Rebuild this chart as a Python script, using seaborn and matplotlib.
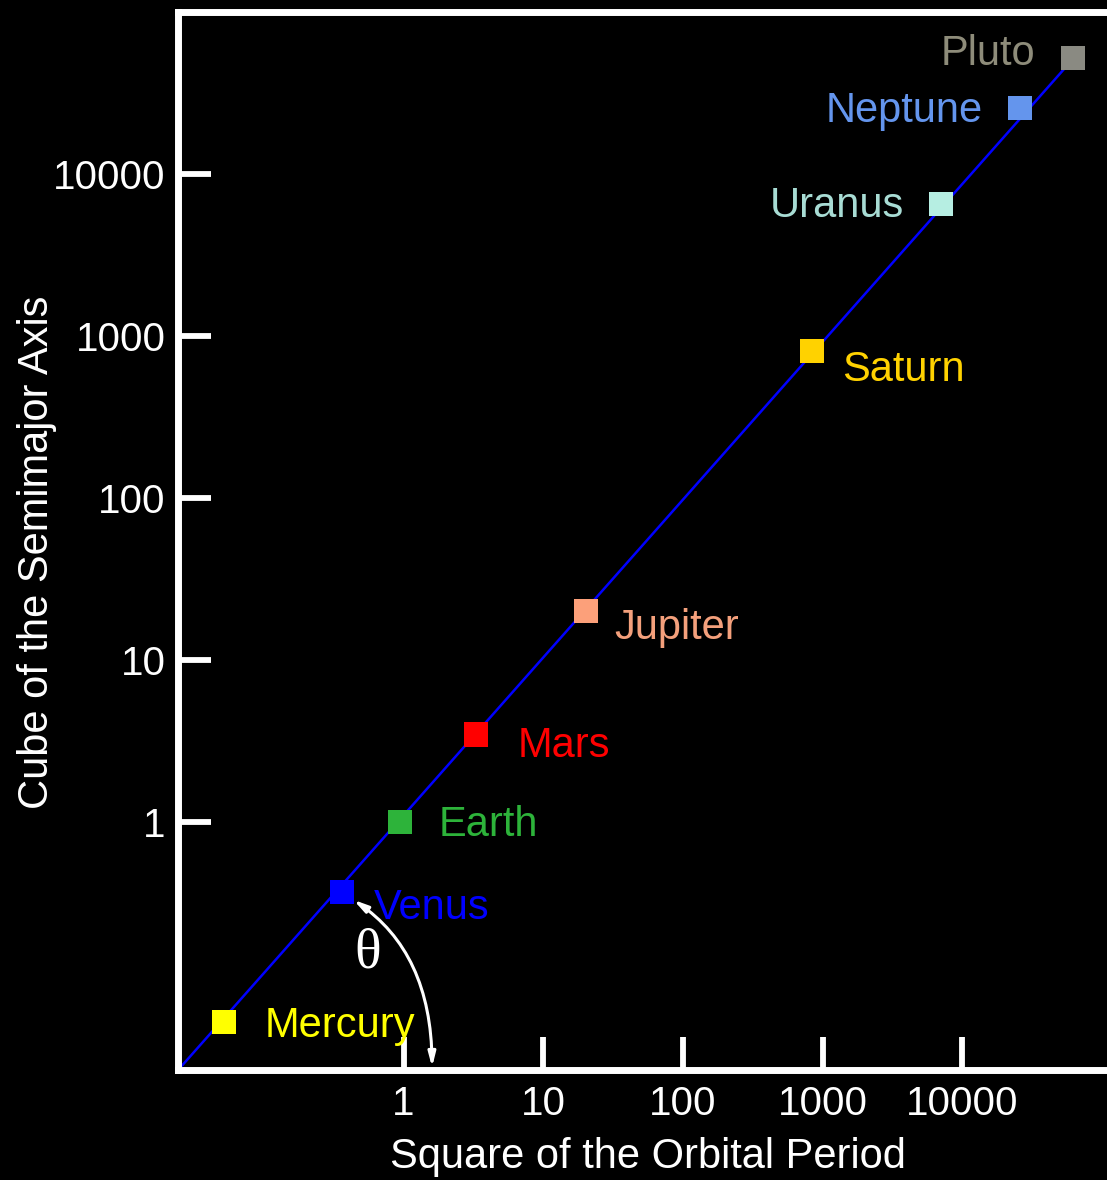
import matplotlib
matplotlib.use("Agg")
import matplotlib.pyplot as plt
import seaborn as sns
import pandas as pd

# ── Data ────────────────────────────────────────────────────────────────────
PLANETS = ["Mercury", "Venus", "Earth", "Mars", "Jupiter",
           "Saturn", "Uranus", "Neptune", "Pluto"]
PERIOD_SQ = [0.052, 0.36, 0.94, 3.3, 20.3, 835, 7080, 25900, 62000]
AXIS_CUBE = [0.058, 0.367, 1.0, 3.47, 20.1, 816, 6600, 25700, 52000]
MARKER_COLORS = ["#FFFF00", "#0000FF", "#2DB33A", "#FF0000", "#FCA07A",
                 "#FFD200", "#B6EEE2", "#6495ED", "#8A8A82"]
TEXT_COLORS = ["#FFFF00", "#0000FF", "#2DB33A", "#FF0000", "#F4A07C",
               "#FFD200", "#A8DCD4", "#6495ED", "#8E8C7A"]
LINE_X = [0.024, 60000]
LINE_Y = [0.029, 50000]
TICKS = [1, 10, 100, 1000, 10000]
TICK_LABELS = ["1", "10", "100", "1000", "10000"]
THETA_END_X = 1.6

df = pd.DataFrame({"planet": PLANETS, "x": PERIOD_SQ, "y": AXIS_CUBE})
line_df = pd.DataFrame({"x": LINE_X, "y": LINE_Y})

sns.set_theme(style="dark")
plt.rcParams["font.family"] = ["Liberation Sans", "DejaVu Sans"]

fig = plt.figure(figsize=(11.07, 11.80), dpi=100, facecolor="black")
ax = fig.add_axes([178 / 1107, 1 - 1070 / 1180, 1 - 178 / 1107, (1070 - 12) / 1180])
ax.set_facecolor("black")

sns.lineplot(data=line_df, x="x", y="y", color="#0000FF", linewidth=1.8, ax=ax)
sns.scatterplot(data=df, x="x", y="y", hue="planet",
                palette=dict(zip(PLANETS, MARKER_COLORS)),
                marker="s", s=300, linewidth=0, legend=False, zorder=3, ax=ax)

ax.set_xscale("log")
ax.set_yscale("log")
ax.set_xlim(10 ** -1.615, 10 ** 5.036)
ax.set_ylim(10 ** -1.532, 10 ** 5.003)

ax.set_xticks(TICKS)
ax.set_xticklabels(TICK_LABELS)
ax.set_yticks(TICKS)
ax.set_yticklabels(TICK_LABELS)
ax.minorticks_off()
ax.tick_params(axis="both", which="major", direction="in", length=24, width=4.2,
               color="white", labelcolor="white", labelsize=29,
               bottom=True, left=True, top=False, right=False)
ax.tick_params(axis="y", pad=9)
ax.tick_params(axis="x", pad=11)
ax.grid(False)

for side in ["left", "top", "bottom"]:
    ax.spines[side].set_visible(True)
    ax.spines[side].set_color("white")
    ax.spines[side].set_linewidth(5)
ax.spines["right"].set_visible(False)

ax.set_xlabel("Square of the Orbital Period", color="white", fontsize=30)
ax.set_ylabel("Cube of the Semimajor Axis", color="white", fontsize=30)
ax.xaxis.set_label_coords((648 - 178) / 929, -(1157 - 1070) / 1058)
ax.xaxis.label.set_va("center")
ax.yaxis.set_label_coords(-(178 - 37) / 929, (1070 - 552) / 1058)
ax.yaxis.label.set_va("center")

# label offsets in points (x, y), alignment
LABEL_OFFSETS = {
    "Mercury": ((29, -3), "left"),
    "Venus": ((23, -11), "left"),
    "Earth": ((28, -2), "left"),
    "Mars": ((30, -8), "left"),
    "Jupiter": ((20, -12), "left"),
    "Saturn": ((22, -14), "left"),
    "Uranus": ((-27, -2), "right"),
    "Neptune": ((-27, -2), "right"),
    "Pluto": ((-27, 3), "right"),
}
for name, x, y, c in zip(PLANETS, PERIOD_SQ, AXIS_CUBE, TEXT_COLORS):
    off, ha = LABEL_OFFSETS[name]
    ax.annotate(name, (x, y), xytext=off, textcoords="offset points",
                ha=ha, va="center", color=c, fontsize=30, zorder=2)

# theta arrow from Venus down to the x axis
venus = (PERIOD_SQ[1], AXIS_CUBE[1])
ax.annotate("", xy=(THETA_END_X, 0), xycoords=("data", "axes fraction"),
            xytext=venus, textcoords="data",
            arrowprops=dict(arrowstyle="<|-|>,head_length=0.7,head_width=0.18",
                            connectionstyle="angle3,angleA=-30,angleB=90",
                            color="white", lw=2.2, shrinkA=10, shrinkB=2),
            zorder=4)
ax.annotate("θ", venus, xytext=(19, -44), textcoords="offset points",
            ha="center", va="center", color="white", fontsize=40,
            family=["Liberation Serif", "DejaVu Serif"], zorder=4)

fig.savefig("out.png", dpi=100, facecolor="black")
